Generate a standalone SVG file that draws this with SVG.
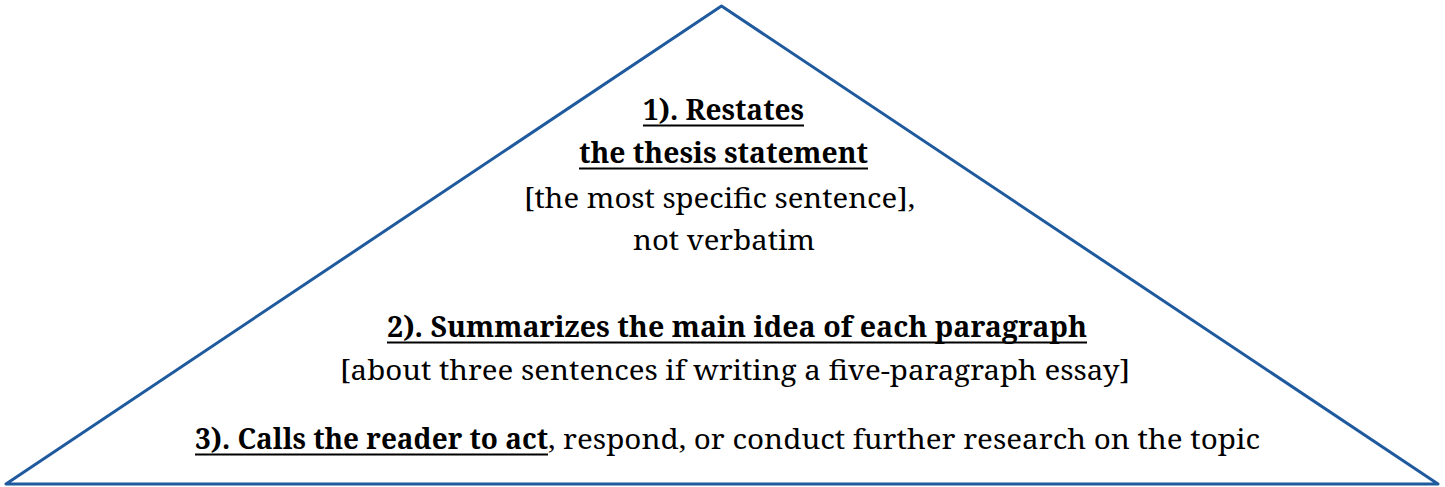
<svg xmlns="http://www.w3.org/2000/svg" width="1445" height="487" viewBox="0 0 1445 487">
<style>
.tri{fill:#ffffff;stroke:#1F5A9E;stroke-width:3;stroke-linejoin:round}
.t{font-family:'Noto Serif','Liberation Serif',serif;font-size:28px;fill:#000000}
.b{font-weight:bold}
.u{stroke:#000000;stroke-width:2.2}
</style>
<rect width="1445" height="487" fill="#ffffff"/>
<g id="pyramid">
<polygon class="tri" points="721.5,6 6,484 1438,484"/>
</g>
<g id="level1">
<text class="t b" x="643" y="120" textLength="161" lengthAdjust="spacingAndGlyphs">1). Restates</text>
<line class="u" x1="643" y1="125.5" x2="804" y2="125.5"/>
<text class="t b" x="579" y="163" textLength="289" lengthAdjust="spacingAndGlyphs">the thesis statement</text>
<line class="u" x1="579" y1="168.5" x2="868" y2="168.5"/>
<text class="t" x="524" y="207.5" textLength="391" lengthAdjust="spacingAndGlyphs">[the most specific sentence],</text>
<text class="t" x="633" y="250" textLength="182" lengthAdjust="spacingAndGlyphs">not verbatim</text>
</g>
<g id="level2">
<text class="t b" x="387" y="337" textLength="700" lengthAdjust="spacingAndGlyphs">2). Summarizes the main idea of each paragraph</text>
<line class="u" x1="387" y1="342.5" x2="1087" y2="342.5"/>
<text class="t" x="340" y="380" textLength="790" lengthAdjust="spacingAndGlyphs">[about three sentences if writing a five-paragraph essay]</text>
</g>
<g id="level3">
<text class="t b" x="195" y="449" textLength="353" lengthAdjust="spacingAndGlyphs">3). Calls the reader to act</text>
<line class="u" x1="195" y1="454.5" x2="548" y2="454.5"/>
<text class="t" x="548" y="449" textLength="712" lengthAdjust="spacingAndGlyphs">, respond, or conduct further research on the topic</text>
</g>
<g id="connectors"></g>
</svg>
